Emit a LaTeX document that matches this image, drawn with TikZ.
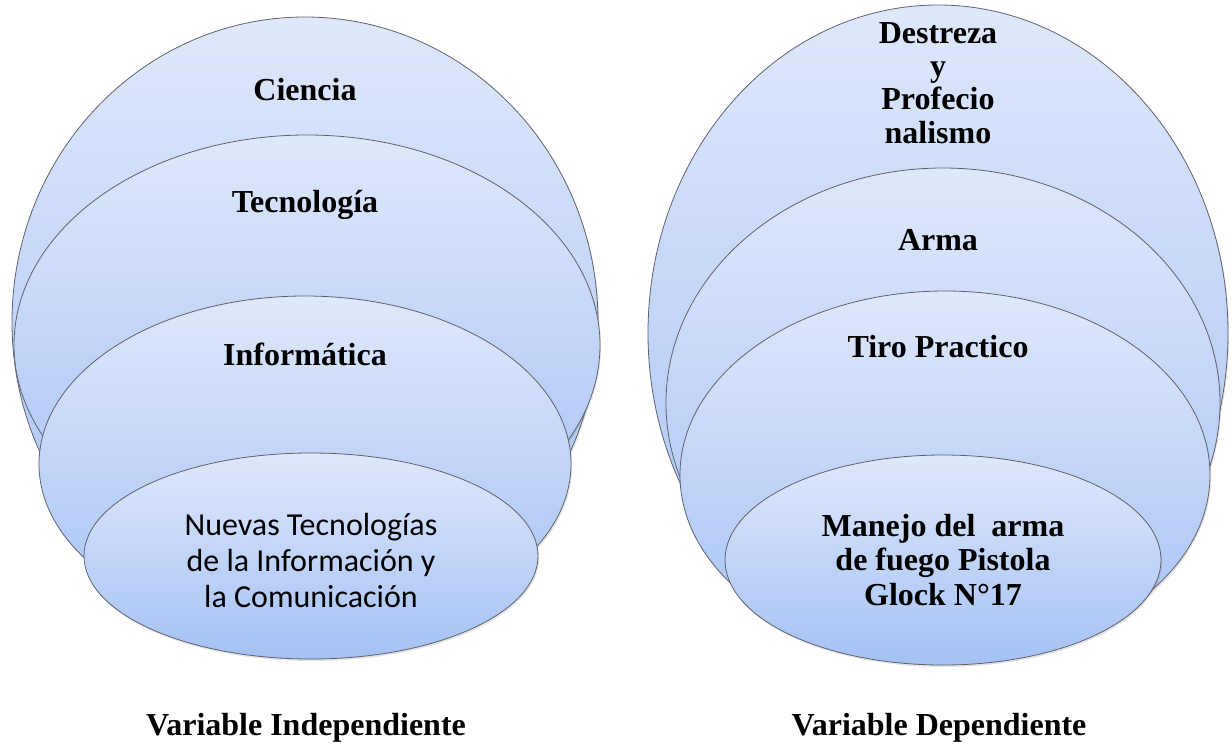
\documentclass[tikz,border=0pt]{standalone}
\usepackage{fontspec}
\setmainfont{Liberation Serif}
\newfontfamily\calibri{Carlito}
\usetikzlibrary{shadows}
\definecolor{borde}{RGB}{95,98,110}
\definecolor{claro}{RGB}{223,232,251}
\definecolor{oscuro}{RGB}{164,193,244}

\begin{document}
\begin{tikzpicture}[x=0.75pt,y=0.75pt,yscale=-1,xscale=1,
  capa/.style={draw=borde,line width=0.6pt,top color=claro,bottom color=oscuro,
    drop shadow={opacity=0.22,shadow xshift=0.8pt,shadow yshift=-1.5pt}},
  rotulo/.style={font=\fontsize{24}{26}\selectfont\bfseries,align=center,inner sep=0pt}]
\useasboundingbox (0,0) rectangle (1232,744);

%Shape: Ellipse [id:izq1] 
\draw [capa] (305,322) ellipse [x radius=293, y radius=305];
%Shape: Ellipse [id:izq2] 
\draw [capa] (307,345) ellipse [x radius=293, y radius=210];
%Shape: Ellipse [id:izq3] 
\draw [capa] (305,464) ellipse [x radius=266, y radius=168];
%Shape: Ellipse [id:izq4] 
\draw [capa] (311,556) ellipse [x radius=227, y radius=103];

%Shape: Ellipse [id:der1] 
\draw [capa] (938,333) ellipse [x radius=290, y radius=328];
%Shape: Ellipse [id:der2] 
\draw [capa] (943,403) ellipse [x radius=277, y radius=235];
%Shape: Ellipse [id:der3] 
\draw [capa] (945,475) ellipse [x radius=265, y radius=184];
%Shape: Ellipse [id:der4] 
\draw [capa] (943,560) ellipse [x radius=218, y radius=105];

% Text Node
\draw (305,90) node (ciencia) [rotulo] {Ciencia};
% Text Node
\draw (305,205) node (tecno) [rotulo] {Tecnología};
% Text Node
\draw (305,354) node (infor) [rotulo] {Informática};
% Text Node
\draw (311,560) node (ntic) [rotulo,font=\calibri\fontsize{24}{27}\selectfont] {Nuevas Tecnologías\\de la Información y\\la Comunicación};

% Text Node
\draw (938,83) node (destreza) [rotulo,font=\fontsize{24}{25}\selectfont\bfseries] {Destreza\\y\\Profecio\\nalismo};
% Text Node
\draw (938,240) node (arma) [rotulo] {Arma};
% Text Node
\draw (938,347) node (tiro) [rotulo] {Tiro Practico};
% Text Node
\draw (943,560) node (manejo) [rotulo] {Manejo del \ arma\\de fuego Pistola\\Glock N°17};

% Text Node
\draw (306,728) node (vindep) [rotulo] {Variable Independiente};
% Text Node
\draw (939,728) node (vdep) [rotulo] {Variable Dependiente};

\end{tikzpicture}
\end{document}
